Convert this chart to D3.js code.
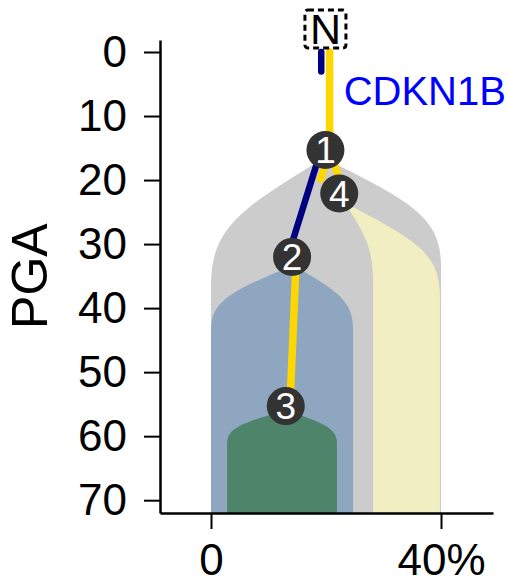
<!DOCTYPE html>
<html><head><meta charset="utf-8">
<script src="https://cdn.jsdelivr.net/npm/d3@7"></script>
<style>html,body{margin:0;padding:0;background:#fff;} svg{display:block;font-family:"Liberation Sans",Arial,sans-serif;}</style>
</head><body><svg id="chart" width="508" height="584"></svg>
<script>
// ---- data ----
const yTicks = [0, 10, 20, 30, 40, 50, 60, 70];
const xTicks = [0, 40];
const xTickLabels = ["0", "40%"];
const yLabel = "PGA";

const nodeNames = ["N", "1", "2", "3", "4"];
const nodeCCF   = [19.9, 19.9, 14.1, 13.0, 22.3];
const nodePGA   = [0, 15.3, 32.0, 55.3, 22.1];

const edgeFrom  = ["N", "1", "1", "2"];
const edgeTo    = ["1", "2", "4", "3"];
const edgeNavy  = [0.2, 1, 0, 0];      // fraction of edge drawn in navy
const edgeGold  = [1, 0.26, 1, 1];     // fraction of edge drawn in gold
const edgeGenes = ["CDKN1B", "", "", ""];

const cloneNodes     = ["1", "4", "2", "3"];
const cloneApexCCF   = [19.65, 23.3, 14.26, 13.0];
const cloneApexPGA   = [16.6, 23.6, 33.3, 55.9];
const cloneLeft      = [0, 28.2, 0, 2.8];
const cloneRight     = [40, 39.8, 24.7, 21.9];
const cloneShoulderL = [36.5, 36.5, 43.4, 61.1];
const cloneShoulderR = [33.5, 38.0, 43.4, 61.1];

// ---- styles ----
const cloneColors = {"1": "#cccccc", "4": "#f1efc2", "2": "#8fa6c1", "3": "#4e8469"};
const navy = "#000080", gold = "#ffd700";

const svg = d3.select("#chart");
const x = d3.scaleLinear().domain([-8.87, 49.04]).range([160, 493]);
const y = d3.scaleLinear().domain([-1.875, 72]).range([40, 513]);
const yBottom = y.domain()[1];

const nodeIdx = n => nodeNames.indexOf(n);

// clones
cloneNodes.forEach((c, i) => {
  const ax = x(cloneApexCCF[i]), ay = y(cloneApexPGA[i]);
  const xl = x(cloneLeft[i]), xr = x(cloneRight[i]);
  const yl = y(cloneShoulderL[i]), yr = y(cloneShoulderR[i]);
  const yb = y(yBottom);
  const p = d3.path();
  p.moveTo(xl, yb);
  p.lineTo(xl, yl);
  p.bezierCurveTo(xl, ay + 0.55 * (yl - ay), ax + 0.75 * (xl - ax), ay + 0.4 * (yl - ay), ax, ay);
  p.bezierCurveTo(ax + 0.75 * (xr - ax), ay + 0.4 * (yr - ay), xr, ay + 0.55 * (yr - ay), xr, yr);
  p.lineTo(xr, yb);
  p.closePath();
  svg.append("path").attr("d", p.toString()).attr("fill", cloneColors[c]);
});

// edges
const off = 4.2;
edgeFrom.forEach((f, i) => {
  const a = nodeIdx(f), b = nodeIdx(edgeTo[i]);
  const x0 = x(nodeCCF[a]), y0 = y(nodePGA[a]);
  const x1 = x(nodeCCF[b]), y1 = y(nodePGA[b]);
  const len = Math.hypot(x1 - x0, y1 - y0);
  const dx = (x1 - x0) / len, dy = (y1 - y0) / len;
  const px = dy, py = -dx;
  if (edgeNavy[i] > 0) {
    svg.append("line")
      .attr("x1", x0 - px * off).attr("y1", y0 - py * off)
      .attr("x2", x0 - px * off + (x1 - x0) * edgeNavy[i]).attr("y2", y0 - py * off + (y1 - y0) * edgeNavy[i])
      .attr("stroke", navy).attr("stroke-width", 6.5).attr("stroke-linecap", "round");
  }
  if (edgeGold[i] > 0) {
    svg.append("line")
      .attr("x1", x0 + px * off).attr("y1", y0 + py * off)
      .attr("x2", x0 + px * off + (x1 - x0) * edgeGold[i]).attr("y2", y0 + py * off + (y1 - y0) * edgeGold[i])
      .attr("stroke", gold).attr("stroke-width", 7.5).attr("stroke-linecap", "round");
  }
  if (edgeGenes[i]) {
    const my = (y0 + y1) / 2;
    svg.append("text").attr("x", x0 + px * off + 14).attr("y", my)
      .attr("dy", "0.1em").attr("font-size", 40).attr("fill", "#0000ff").text(edgeGenes[i]);
  }
});

// nodes
nodeNames.forEach((n, i) => {
  const cx = x(nodeCCF[i]), cy = y(nodePGA[i]);
  if (n === "N") {
    const ty = cy - 23;
    svg.append("rect").attr("x", cx - 20.5).attr("y", ty - 19).attr("width", 41).attr("height", 38)
      .attr("rx", 3).attr("fill", "#fff").attr("stroke", "#000").attr("stroke-width", 3)
      .attr("stroke-dasharray", "6,4");
    svg.append("text").attr("x", cx).attr("y", ty).attr("dy", "0.36em").attr("text-anchor", "middle")
      .attr("font-size", 43).attr("fill", "#000").text(n);
  } else {
    svg.append("circle").attr("cx", cx).attr("cy", cy).attr("r", 19).attr("fill", "#333333");
    svg.append("text").attr("x", cx).attr("y", cy).attr("dy", "0.36em").attr("text-anchor", "middle")
      .attr("font-size", 37).attr("fill", "#fff").text(n);
  }
});

// axes
const gy = svg.append("g").attr("transform", `translate(${x.range()[0]},0)`)
  .call(d3.axisLeft(y).tickValues(yTicks).tickSize(16).tickSizeOuter(0).tickPadding(17));
const gx = svg.append("g").attr("transform", `translate(0,${y.range()[1]})`)
  .call(d3.axisBottom(x).tickValues(xTicks).tickFormat((d, i) => xTickLabels[i]).tickSize(16).tickSizeOuter(0).tickPadding(15));
[gy, gx].forEach(g => {
  g.select(".domain").attr("stroke", "#000").attr("stroke-width", 2.5);
  g.selectAll(".tick line").attr("stroke", "#000").attr("stroke-width", 2);
  g.selectAll(".tick text").attr("font-size", 44).attr("fill", "#000")
    .attr("font-family", '"Liberation Sans",Arial,sans-serif');
});

svg.append("text").attr("transform", `translate(29,${y(35)}) rotate(-90)`)
  .attr("text-anchor", "middle").attr("dy", "0.36em").attr("font-size", 50).attr("fill", "#000").text(yLabel);
</script></body></html>
